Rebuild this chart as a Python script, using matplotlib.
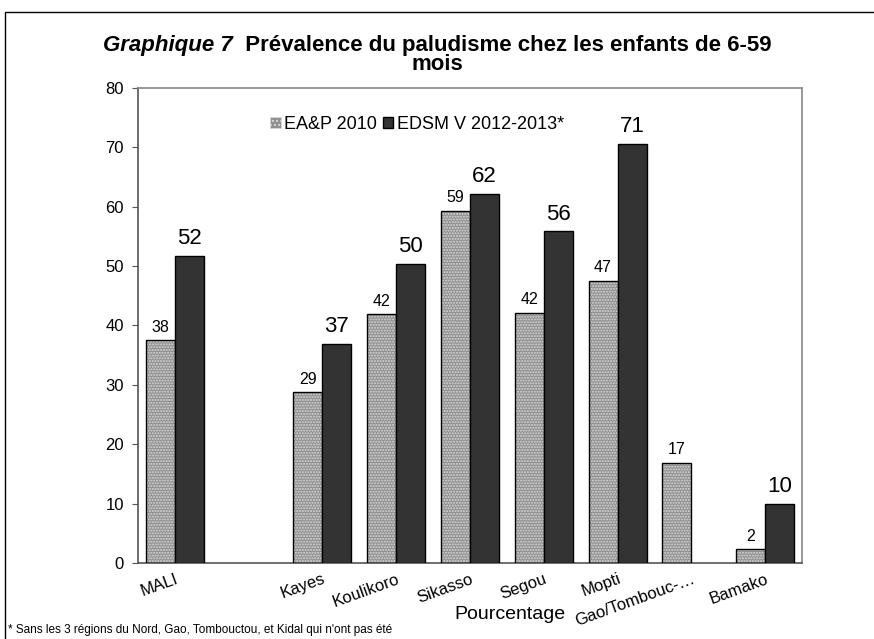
import numpy as np
import matplotlib
matplotlib.use("Agg")
import matplotlib.pyplot as plt
from matplotlib.patches import Rectangle

plt.rcParams['font.family'] = ['Liberation Sans', 'DejaVu Sans']

categories = ["MALI", "", "Kayes", "Koulikoro", "Sikasso", "Segou", "Mopti",
              "Gao/Tombouc-\u2026", "Bamako"]
ea_2010 = [37.5, None, 28.7, 41.9, 59.3, 42.1, 47.5, 16.9, 2.3]
edsm_2012 = [51.7, None, 36.9, 50.3, 62.1, 55.8, 70.6, None, 9.9]
ea_labels = ["38", "", "29", "42", "59", "42", "47", "17", "2"]
edsm_labels = ["52", "", "37", "50", "62", "56", "71", "", "10"]
yticks = [0, 10, 20, 30, 40, 50, 60, 70, 80]


def main():
    fig = plt.figure(figsize=(8.74, 6.39), dpi=100)
    ax = fig.add_axes([138 / 874, 1 - 563 / 639, 664 / 874, 475.3 / 639])

    x = np.arange(len(categories))
    w = 0.393
    ea = np.array([np.nan if v is None else v for v in ea_2010])
    ed = np.array([np.nan if v is None else v for v in edsm_2012])

    # hatched light bars: texture layer then outline layer
    ax.bar(x - w / 2, ea, w, color="#8f8f8f", edgecolor="#d9d9d9",
           hatch="......", linewidth=0, zorder=2)
    ax.bar(x - w / 2, ea, w, facecolor="none", edgecolor="black",
           linewidth=1.0, zorder=3)
    ax.bar(x + w / 2, ed, w, color="#333333", edgecolor="black",
           linewidth=1.0, zorder=3)

    for i in range(len(categories)):
        if not np.isnan(ea[i]):
            ax.annotate(ea_labels[i], (x[i] - w / 2, ea[i]), xytext=(0, 4),
                        textcoords="offset points", ha="center", va="bottom",
                        fontsize=11.5)
        if not np.isnan(ed[i]):
            ax.annotate(edsm_labels[i], (x[i] + w / 2, ed[i]), xytext=(0, 5),
                        textcoords="offset points", ha="center", va="bottom",
                        fontsize=16)

    ax.set_xlim(-0.5, len(categories) - 0.5)
    ax.set_ylim(0, 80)
    ax.set_yticks(yticks)
    ax.tick_params(axis="y", labelsize=12, length=4, color="#555555", pad=6)
    ax.set_xticks(x)
    ax.set_xticklabels(categories, rotation=20, ha="right",
                       rotation_mode="anchor", fontsize=12)
    ax.tick_params(axis="x", length=0, pad=6)

    ax.spines["left"].set_color("#555555")
    ax.spines["bottom"].set_color("#555555")
    ax.spines["top"].set_color("#888888")
    ax.spines["right"].set_color("#888888")
    for s in ax.spines.values():
        s.set_linewidth(1.2)

    ax.set_xlabel("Pourcentage", fontsize=14)
    ax.xaxis.set_label_coords(0.56, -0.09)

    h1 = Rectangle((0, 0), 1, 1, facecolor="#8f8f8f", edgecolor="#d9d9d9",
                   hatch="....", linewidth=0.5)
    h2 = Rectangle((0, 0), 1, 1, facecolor="#333333", edgecolor="black")
    ax.legend([h1, h2], ["EA&P 2010", "EDSM V 2012-2013*"], ncol=2,
              loc="center left", bbox_to_anchor=(0.185, 0.923), frameon=False,
              fontsize=13, handlelength=0.6, handleheight=0.6,
              handletextpad=0.2, columnspacing=0.3, borderpad=0)

    # title: italic part + bold part, centred together
    t1 = fig.text(0, 1 - 45 / 639, "Graphique 7", fontsize=16,
                  fontweight="bold", style="italic", va="center")
    t2 = fig.text(0, 1 - 45 / 639,
                  "  Pr\u00e9valence du paludisme chez les enfants de 6-59",
                  fontsize=16, fontweight="bold", va="center")
    r = fig.canvas.get_renderer()
    w1 = t1.get_window_extent(r).width
    w2 = t2.get_window_extent(r).width
    start = (874 - w1 - w2) / 2
    t1.set_x(start / 874)
    t2.set_x((start + w1) / 874)
    fig.text(0.5, 1 - 65 / 639, "mois", fontsize=16, fontweight="bold",
             ha="center", va="center")

    fig.text(8 / 874, 1 - 624 / 639,
             "* Sans les 3 r\u00e9gions du Nord, Gao, Tombouctou, et Kidal qui n'ont pas \u00e9t\u00e9",
             fontsize=8.5, va="top")

    fig.patches.append(Rectangle((5 / 874, -0.1), 1.1, 1.1 - 12 / 639,
                                 transform=fig.transFigure, fill=False,
                                 edgecolor="black", linewidth=1.0))

    fig.savefig("out.png", dpi=100)


if __name__ == "__main__":
    main()
